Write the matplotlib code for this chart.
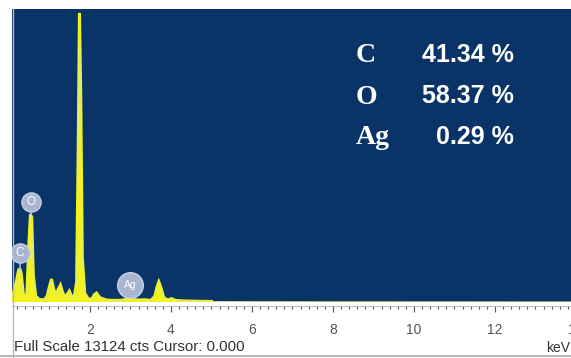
import matplotlib.pyplot as plt
from matplotlib.ticker import MultipleLocator

# spectrum trace (keV, counts)
energy = [0.07, 0.12, 0.18, 0.24, 0.27, 0.30, 0.35, 0.40, 0.44, 0.49, 0.53, 0.56,
          0.60, 0.66, 0.75, 0.86, 0.94, 1.00, 1.05, 1.10, 1.16, 1.21, 1.27, 1.32,
          1.38, 1.43, 1.49, 1.54, 1.61, 1.67, 1.71, 1.74, 1.77, 1.81, 1.87, 1.95,
          2.04, 2.11, 2.16, 2.24, 2.40, 2.60, 2.80, 2.92, 2.99, 3.06, 3.20, 3.35,
          3.50, 3.60, 3.66, 3.70, 3.75, 3.82, 3.92, 4.01, 4.12, 4.30, 4.60, 5.00,
          6.00, 8.00, 10.0, 12.0, 14.2]
counts = [250, 500, 900, 1450, 1480, 1300, 400, 180, 300, 2600, 3950, 3800,
          1200, 250, 120, 90, 250, 700, 1030, 600, 300, 550, 760, 450,
          200, 330, 490, 280, 200, 900, 7000, 12990, 9500, 2000, 400, 150,
          120, 330, 400, 200, 90, 70, 80, 150, 220, 110, 90, 100,
          70, 250, 700, 900, 650, 200, 90, 150, 70, 50, 35, 25,
          15, 10, 8, 6, 5]

# peak labels
peak_names = ["C", "O", "Ag"]
peak_energy = [0.27, 0.54, 2.99]
peak_height = [1480, 3950, 220]
badge_height = [2200, 4490, 760]

# quantification table
elements = ["C", "O", "Ag"]
percents = ["41.34 %", "58.37 %", "0.29 %"]

full_scale = 13124

navy = "#0a3468"
yellow = "#f2f21e"
badge = "#a9b6d2"

fig = plt.figure(figsize=(5.71, 3.58), dpi=100)
fig.patch.set_facecolor("white")
ax = fig.add_axes([12 / 571, 1 - 302 / 358, (584 - 12) / 571, (302 - 9) / 358])
ax.set_facecolor(navy)

ax.fill_between(energy, counts, 0, color=yellow, linewidth=0)
# heavier outline over the low-energy part where the peaks are
low = [i for i, e in enumerate(energy) if e <= 5.0]
ax.plot([energy[i] for i in low], [counts[i] for i in low], color=yellow,
        linewidth=2.2, solid_joinstyle="miter")
ax.plot(energy, counts, color="#d8ea7a", linewidth=0.6)

# element badges on the peaks
for name, e, h, b in zip(peak_names, peak_energy, peak_height, badge_height):
    ax.plot([e, e], [h, b], color=badge, linewidth=1.2, zorder=3)
    size = 340 if len(name) > 1 else 190
    ax.scatter([e], [b], s=size, color=badge, edgecolors="#c8d2e6",
               linewidths=1.0, zorder=4)
    ax.text(e, b, name, color="white", fontsize=7.5 if len(name) > 1 else 8.5,
            ha="center", va="center", zorder=5, family="Liberation Sans")

ax.set_xlim(0.074, 14.2)
ax.set_ylim(0, full_scale * 293 / 292)

for side in ["top", "right", "left"]:
    ax.spines[side].set_visible(False)
ax.spines["bottom"].set_position(("outward", 3))
ax.spines["bottom"].set_color("#b0b0b0")
ax.spines["bottom"].set_linewidth(0.6)
ax.set_yticks([])
ax.xaxis.set_major_locator(MultipleLocator(2))
ax.xaxis.set_minor_locator(MultipleLocator(0.2))
ax.tick_params(axis="x", which="major", length=4, width=0.8, color="#555555",
               labelsize=10, labelcolor="#555555", pad=8)
ax.tick_params(axis="x", which="minor", length=2.5, width=0.8, color="#555555")
for lbl in ax.get_xticklabels():
    lbl.set_family("Liberation Sans")

# composition table
for i, (el, pc) in enumerate(zip(elements, percents)):
    fig.text(356 / 571, 1 - (56 + i * 41) / 358, el, color="white",
             fontsize=20, fontweight="bold", family="Liberation Serif",
             ha="left", va="center")
    fig.text(514 / 571, 1 - (55 + i * 41) / 358, pc, color="white",
             fontsize=18, fontweight="bold", family="Liberation Sans",
             ha="right", va="center")

fig.text(14 / 571, 1 - 347 / 358, "Full Scale 13124 cts Cursor: 0.000",
         color="#333333", fontsize=10.8, family="Liberation Sans",
         ha="left", va="center")
fig.text(546 / 571, 1 - 348 / 358, "keV", color="#333333", fontsize=10,
         family="Liberation Sans", ha="left", va="center")

# frame lines around the panel
fig.add_artist(plt.Line2D([12.5 / 571, 12.5 / 571], [0.0, 1 - 9 / 358],
                          color="#b8b8b8", linewidth=1.0))
fig.add_artist(plt.Line2D([0, 1], [2 / 358, 2 / 358], color="#b8b8b8",
                          linewidth=1.5))

fig.savefig("out.png", dpi=100)
